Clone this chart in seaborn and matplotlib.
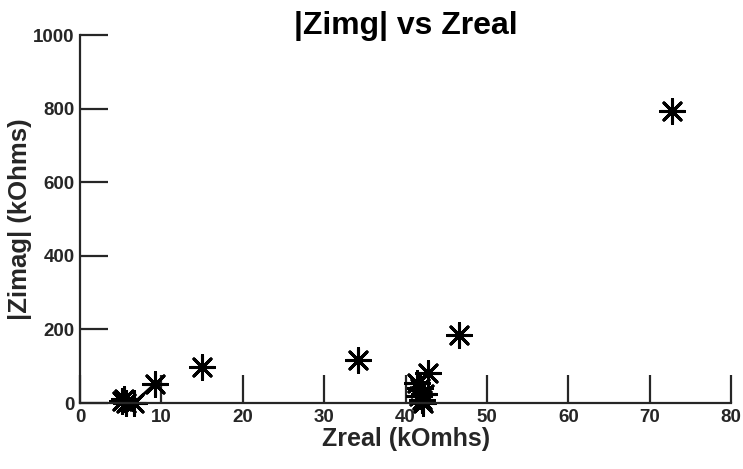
import matplotlib
matplotlib.use("Agg")
import matplotlib.pyplot as plt
import seaborn as sns
import pandas as pd

zreal = [72.7, 46.6, 34.2, 15.0, 9.2, 42.75, 41.4, 41.8, 42.3, 41.6, 42.0, 42.2, 5.1, 5.4, 5.7, 6.6]
zimag = [795, 185, 117, 98, 52, 82, 55, 40, 25, 20, 8, 0, 5, 10, 0, 0]
seg_x = [6.6, 9.2]
seg_y = [0, 52]

sns.set_theme(style="white")
plt.rcParams['font.family'] = ['Liberation Sans', 'DejaVu Sans']
plt.rcParams['font.weight'] = 'bold'

fig = plt.figure(figsize=(7.43, 4.69), dpi=100)
ax = fig.add_axes([0.1077, 0.1407, 0.984 - 0.1077, 0.925 - 0.1407])

df = pd.DataFrame({"x": zreal, "y": zimag})
sns.lineplot(x=seg_x, y=seg_y, ax=ax, color="black", linewidth=2, sort=False)
sns.scatterplot(data=df, x="x", y="y", ax=ax, marker=(8, 2, 0), s=300,
                color="black", linewidth=2.2, edgecolor="black", legend=False)

ax.set_xlim(0, 80)
ax.set_ylim(0, 1000)
ax.set_xticks(range(0, 81, 10))
ax.set_yticks(range(0, 1001, 200))
ax.tick_params(direction="in", length=20, width=1.6, color="#262626",
               labelsize=13.5, labelcolor="#262626", pad=4,
               bottom=True, left=True)
for lab in ax.get_xticklabels() + ax.get_yticklabels():
    lab.set_fontweight("bold")
for s in ["top", "right"]:
    ax.spines[s].set_visible(False)
for s in ["left", "bottom"]:
    ax.spines[s].set_color("#262626")
    ax.spines[s].set_linewidth(1.6)

ax.set_xlabel("Zreal (kOmhs)", fontsize=18, fontweight="bold", color="#262626", labelpad=1)
ax.set_ylabel("|Zimag| (kOhms)", fontsize=18.5, fontweight="bold", color="#262626", labelpad=1)
ax.set_title("|Zimg| vs Zreal", fontsize=23, fontweight="bold", color="black", pad=1)
for c in ax.collections:
    c.set_clip_on(False)

fig.savefig("out.png", dpi=100)
